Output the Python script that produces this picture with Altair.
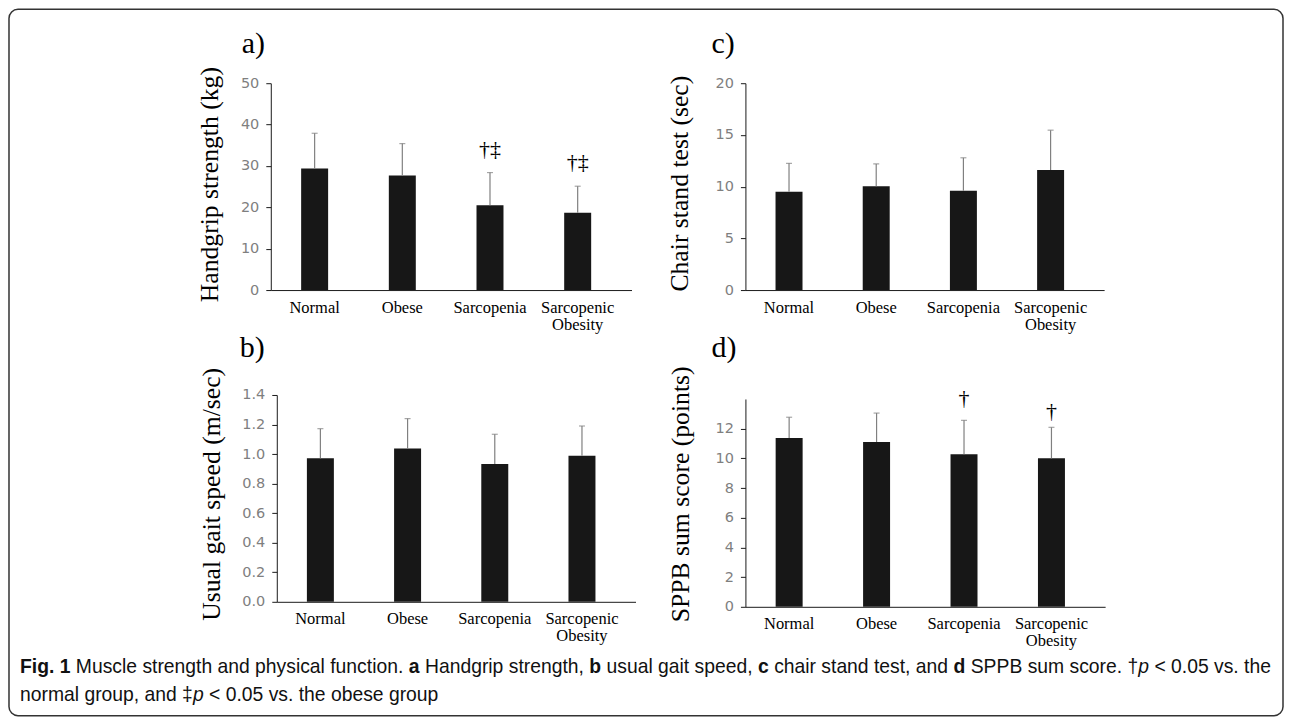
import altair as alt
import pandas as pd

categories = ["Normal", "Obese", "Sarcopenia", "Sarcopenic Obesity"]

grip_mean = [29.4, 27.7, 20.5, 18.7]
grip_upper = [37.9, 35.4, 28.4, 25.1]
grip_notes = ["†‡", "†‡"]
grip_note_cats = ["Sarcopenia", "Sarcopenic Obesity"]
grip_note_y = [34.2, 31.0]
grip_ticks = [0, 10, 20, 30, 40, 50]

gait_mean = [0.971, 1.037, 0.933, 0.989]
gait_upper = [1.172, 1.24, 1.134, 1.19]
gait_ticks = [0.0, 0.2, 0.4, 0.6, 0.8, 1.0, 1.2, 1.4]

chair_mean = [9.51, 10.03, 9.6, 11.6]
chair_upper = [12.25, 12.2, 12.79, 15.46]
chair_ticks = [0, 5, 10, 15, 20]

sppb_mean = [11.37, 11.1, 10.28, 10.0]
sppb_upper = [12.77, 13.05, 12.56, 12.09]
sppb_notes = ["†", "†"]
sppb_note_cats = ["Sarcopenia", "Sarcopenic Obesity"]
sppb_note_y = [14.08, 13.19]
sppb_ticks = [0, 2, 4, 6, 8, 10, 12]

# caption pieces: (text, style)
caption_line1 = [
    ("Fig. 1", "bold"), ("Muscle strength and physical function.", "normal"), ("a", "bold"),
    ("Handgrip strength,", "normal"), ("b", "bold"), ("usual gait speed,", "normal"),
    ("c", "bold"), ("chair stand test, and", "normal"), ("d", "bold"),
    ("SPPB sum score. †", "normal"), ("p", "italic"), ("< 0.05 vs. the", "normal"),
]
caption_line2 = [
    ("normal group, and ‡", "normal"), ("p", "italic"), ("< 0.05 vs. the obese group", "normal"),
]

SERIF = "Liberation Serif"
SANS = "Liberation Sans"
BAR = "#171717"
ERR = "#808080"
AX = "#1a1a1a"

# Arial / Liberation Sans advance widths (1/1000 em) used to lay out caption pieces
_W = {" ": 278, ",": 278, ".": 278, "<": 584, "†": 556, "‡": 556, "0": 556, "1": 556, "5": 556,
      "A": 667, "B": 667, "P": 667, "S": 667, "F": 611, "H": 722,
      "a": 556, "b": 556, "c": 500, "d": 556, "e": 556, "f": 278, "g": 556, "h": 556,
      "i": 222, "k": 500, "l": 222, "m": 833, "n": 556, "o": 556, "p": 556, "r": 333,
      "s": 500, "t": 278, "u": 556, "v": 500, "y": 500, "M": 833}
_WB = {"F": 611, "i": 278, "g": 611, ".": 278, " ": 278, "1": 556, "a": 556, "b": 611,
       "c": 556, "d": 611}


def text_units(t, style):
    table = _WB if style == "bold" else _W
    return sum(table.get(ch, 556) for ch in t)


def layout_line(pieces, x0, line_px, y):
    units = sum(text_units(t, s) for t, s in pieces) + 278 * sum(
        1 for i in range(len(pieces) - 1) if not pieces[i][0].endswith(("†", "‡")))
    fs = line_px * 1000.0 / units
    rows, x = [], x0
    for i, (t, s) in enumerate(pieces):
        rows.append({"t": t, "style": s, "px": x, "py": y, "fs": fs})
        x += text_units(t, s) * fs / 1000.0
        if i < len(pieces) - 1 and not t.endswith(("†", "‡")):
            x += 278 * fs / 1000.0
    return rows, fs


def panel(mean, upper, ticks, domain, title, letter, width, height,
          notes=None, note_cats=None, note_y=None, fmt=None,
          xrange=None, yrange=None, yoffset=0, title_x=-61, title_y=100,
          letter_xy=(-29, -39)):
    df = pd.DataFrame({"cat": categories, "mean": mean, "upper": upper})
    xs = dict(paddingInner=0, paddingOuter=0.057, align=0)
    if xrange is not None:
        xs["range"] = xrange
    ys = dict(domain=domain, nice=False, zero=True)
    if yrange is not None:
        ys["range"] = yrange
    yaxis = dict(values=ticks, title=title, titleFont=SERIF, titleFontSize=25.7,
                 titleFontWeight="normal", titleColor="black", titleX=title_x,
                 titleY=title_y, titleAngle=-90, titleAlign="center",
                 titleBaseline="middle", labelFont="DejaVu Sans", labelFontSize=14.5,
                 labelColor="#7f7f7f", labelPadding=7, tickSize=5, tickColor=AX,
                 domainColor=AX, grid=False, offset=yoffset)
    if fmt:
        yaxis["format"] = fmt
    xaxis = dict(title=None, labelAngle=0, ticks=False, labelFont=SERIF,
                 labelFontSize=16.5, labelColor="black", labelPadding=9,
                 domainColor=AX, labelLineHeight=17, grid=False,
                 labelExpr="datum.label == 'Sarcopenic Obesity' ? ['Sarcopenic', 'Obesity'] : datum.label")

    def X():
        return alt.X("cat:N", sort=categories, scale=alt.Scale(**xs), axis=alt.Axis(**xaxis))

    def Y(field):
        return alt.Y(field, scale=alt.Scale(**ys), axis=alt.Axis(**yaxis))

    base = alt.Chart(df)
    bars = base.mark_bar(size=27, color=BAR).encode(x=X(), y=Y("mean:Q"))
    err = base.mark_rule(color=ERR, strokeWidth=1.2).encode(
        x=X(), y=Y("mean:Q"), y2="upper:Q")
    cap = base.mark_tick(color=ERR, orient="horizontal", size=6, thickness=1.2).encode(
        x=X(), y=Y("upper:Q"))
    layers = [bars, err, cap]
    if notes:
        ndf = pd.DataFrame({"cat": note_cats, "ny": note_y, "t": notes})
        layers.append(alt.Chart(ndf).mark_text(font=SERIF, fontSize=22, color="black",
                                               baseline="middle").encode(
            x=X(), y=Y("ny:Q"), text="t:N"))
    ldf = pd.DataFrame({"l": [letter]})
    layers.append(alt.Chart(ldf).mark_text(font=SERIF, fontSize=30, color="black",
                                           align="left", baseline="middle").encode(
        x=alt.value(letter_xy[0]), y=alt.value(letter_xy[1]), text="l:N"))
    return alt.layer(*layers).properties(width=width, height=height)


pa = panel(grip_mean, grip_upper, grip_ticks, [0, 50], "Handgrip strength (kg)", "a)",
           361, 207, grip_notes, grip_note_cats, grip_note_y, title_x=-61, title_y=101,
           letter_xy=(-29, -39))
pc = panel(chair_mean, chair_upper, chair_ticks, [0, 20], "Chair stand test (sec)", "c)",
           359, 207, title_x=-66, title_y=100, letter_xy=(-34, -39))
pb = panel(gait_mean, gait_upper, gait_ticks, [0, 1.4], "Usual gait speed (m/sec)", "b)",
           365, 207, fmt=".1f", xrange=[6, 365], yoffset=-6, title_x=-65, title_y=99,
           letter_xy=(-31, -47))
pd_ = panel(sppb_mean, sppb_upper, sppb_ticks, [0, 14], "SPPB sum score (points)", "d)",
            360, 212, sppb_notes, sppb_note_cats, sppb_note_y, yrange=[212, 4],
            title_x=-65, title_y=99, letter_xy=(-34, -47))

# caption cell origin sits at page x=271; caption starts at page x=20
rows1, fs1 = layout_line(caption_line1, -251, 1252, -45)
rows2, _ = layout_line(caption_line2, -251, 1, -17)
# second line uses same font size as the first
rows2 = []
x = -251
for i, (t, s) in enumerate(caption_line2):
    rows2.append({"t": t, "style": s, "px": x, "py": -17, "fs": fs1})
    x += text_units(t, s) * fs1 / 1000.0
    if i < len(caption_line2) - 1 and not t.endswith(("†", "‡")):
        x += 278 * fs1 / 1000.0
cap_df = pd.DataFrame(rows1 + rows2)

cbase = alt.Chart(cap_df)
frame = alt.Chart(pd.DataFrame({"k": [0]})).mark_rect(
    fillOpacity=0, stroke="#333333", strokeWidth=1.5, cornerRadius=9).encode(
    x=alt.value(-262), x2=alt.value(1013), y=alt.value(-703), y2=alt.value(4))
cap_layers = [frame]
for style in ["normal", "bold", "italic"]:
    kw = dict(font=SANS, fontSize=fs1, align="left", baseline="middle", color="#111111")
    if style == "bold":
        kw["fontWeight"] = "bold"
    if style == "italic":
        kw["fontStyle"] = "italic"
    cap_layers.append(cbase.transform_filter(alt.datum.style == style).mark_text(**kw).encode(
        x=alt.X("px:Q", scale=None), y=alt.Y("py:Q", scale=None), text="t:N"))
caption = alt.layer(*cap_layers).properties(width=10, height=4)

chart = alt.concat(pa, pc, pb, pd_, caption, columns=2,
                   spacing={"row": 105, "column": 110}, bounds="flush").properties(
    padding=0, background="white").configure_view(strokeWidth=0)

chart.save("out.html", embed_options={"renderer": "svg", "actions": False})
